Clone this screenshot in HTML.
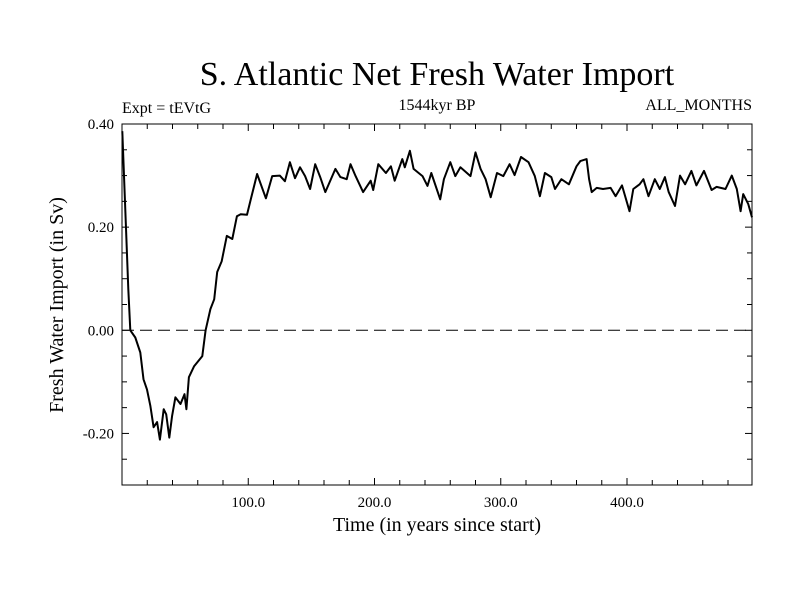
<!DOCTYPE html>
<html><head><meta charset="utf-8"><style>
body{margin:0;background:#fff;}
svg text{font-family:"Liberation Serif",serif;fill:#000;}
</style></head><body>
<svg id="chart" width="800" height="600" xmlns="http://www.w3.org/2000/svg">
<rect width="800" height="600" fill="#fff"/>
<text x="437" y="85" font-size="34" text-anchor="middle">S. Atlantic Net Fresh Water Import</text>
<text x="122" y="113" font-size="16">Expt = tEVtG</text>
<text x="437" y="110" font-size="16" text-anchor="middle">1544kyr BP</text>
<text x="752" y="110" font-size="16" text-anchor="end">ALL_MONTHS</text>
<text transform="translate(63,305) rotate(-90)" font-size="20" text-anchor="middle">Fresh Water Import (in Sv)</text>
<text x="437" y="531" font-size="20" text-anchor="middle">Time (in years since start)</text>
<g id="axes"></g>
<g id="series"></g>
<rect x="122" y="124" width="630" height="361" fill="none" stroke="#000" stroke-width="1"/>
</svg>
<script>
const years=[0.2,2.3,5,6.6,10.5,14.5,17,19.8,22.5,25,27.8,30,33,35,37.5,39.7,42.3,46.3,49.5,51,53,57,63.6,66.2,70,73,75.4,79,83,87.4,91,94,99,102,107,114,119,125,129,133,137,141,145,149,153,157,161,169,173,178,181,185,191,197,199,203,209,213,216,222,224,228,231,238,242,245,252,255,260,264,268,276,280,284,288,292,297,302,307,311,316,322,327,331,335,340,343,348,354,360,363,368,370,372,376,381,387,391,396,402,405,410,413,417,422,426,430,433,438,442,446,451,455,461,467,471,478,483,487,490,492,496,499];
const values=[0.386,0.254,0.08,0.0,-0.014,-0.043,-0.095,-0.115,-0.147,-0.188,-0.178,-0.212,-0.153,-0.163,-0.208,-0.166,-0.130,-0.143,-0.124,-0.153,-0.091,-0.07,-0.05,0.0,0.041,0.06,0.113,0.134,0.183,0.177,0.221,0.225,0.224,0.254,0.303,0.256,0.299,0.30,0.289,0.326,0.295,0.316,0.299,0.274,0.322,0.297,0.268,0.313,0.297,0.293,0.322,0.299,0.268,0.29,0.272,0.322,0.305,0.318,0.29,0.332,0.316,0.348,0.313,0.299,0.28,0.305,0.254,0.293,0.326,0.299,0.316,0.299,0.345,0.313,0.293,0.258,0.305,0.299,0.322,0.301,0.336,0.326,0.299,0.26,0.305,0.297,0.274,0.293,0.283,0.318,0.328,0.332,0.293,0.268,0.276,0.274,0.276,0.26,0.281,0.231,0.274,0.283,0.293,0.26,0.293,0.274,0.297,0.268,0.241,0.30,0.283,0.309,0.281,0.309,0.272,0.278,0.274,0.30,0.274,0.231,0.264,0.245,0.219];
const xTicks=[100,200,300,400];
const xTickLabels=["100.0","200.0","300.0","400.0"];
const yTicks=[-0.2,0,0.2,0.4];
const yTickLabels=["-0.20","0.00","0.20","0.40"];
const X0=122,X1=752,Y0=485,Y1=124,XMIN=0,XMAX=499,YMIN=-0.3,YMAX=0.4;
const sx=v=>X0+(v-XMIN)/(XMAX-XMIN)*(X1-X0);
const sy=v=>Y0-(v-YMIN)/(YMAX-YMIN)*(Y0-Y1);
const NS="http://www.w3.org/2000/svg";
const axes=document.getElementById('axes');
function mk(t,a){const e=document.createElementNS(NS,t);for(const k in a)e.setAttribute(k,a[k]);return e;}
for(let v=20;v<XMAX;v+=20){
  const big=v%100===0;const L=big?7:5;const x=sx(v);
  const t1=mk('line',{x1:x,x2:x,y1:Y0,y2:Y0-L,stroke:'#000'});
  
  
  axes.appendChild(t1);
  const t2=mk('line',{x1:x,x2:x,y1:Y1,y2:Y1+L,stroke:'#000'});
  
  
  axes.appendChild(t2);
}
for(let i=-6;i<=8;i++){
  const v=i*0.05;const big=i%4===0;const L=big?7:5;const y=sy(v);
  const t1=mk('line',{x1:X0,x2:X0+L,y1:y,y2:y,stroke:'#000'});
  
  
  axes.appendChild(t1);
  const t2=mk('line',{x1:X1,x2:X1-L,y1:y,y2:y,stroke:'#000'});
  
  
  axes.appendChild(t2);
}
xTicks.forEach((v,i)=>{
  const t=mk('text',{x:sx(v),y:Y0+22,'font-size':15,'text-anchor':'middle'});
  t.textContent=xTickLabels[i];
  
  
  axes.appendChild(t);
});
yTicks.forEach((v,i)=>{
  const t=mk('text',{x:X0-8,y:sy(v)+5,'font-size':15,'text-anchor':'end'});
  t.textContent=yTickLabels[i];
  
  
  axes.appendChild(t);
});
const zero=mk('line',{x1:X0,x2:X1,y1:sy(0),y2:sy(0),stroke:'#000','stroke-dasharray':'12,6'});


axes.appendChild(zero);
const pts=years.map((y,i)=>sx(y).toFixed(1)+','+sy(values[i]).toFixed(1)).join(' ');
const line=mk('polyline',{points:pts,fill:'none',stroke:'#000','stroke-width':2,'stroke-linejoin':'round'});


document.getElementById('series').appendChild(line);
</script>
</body></html>
